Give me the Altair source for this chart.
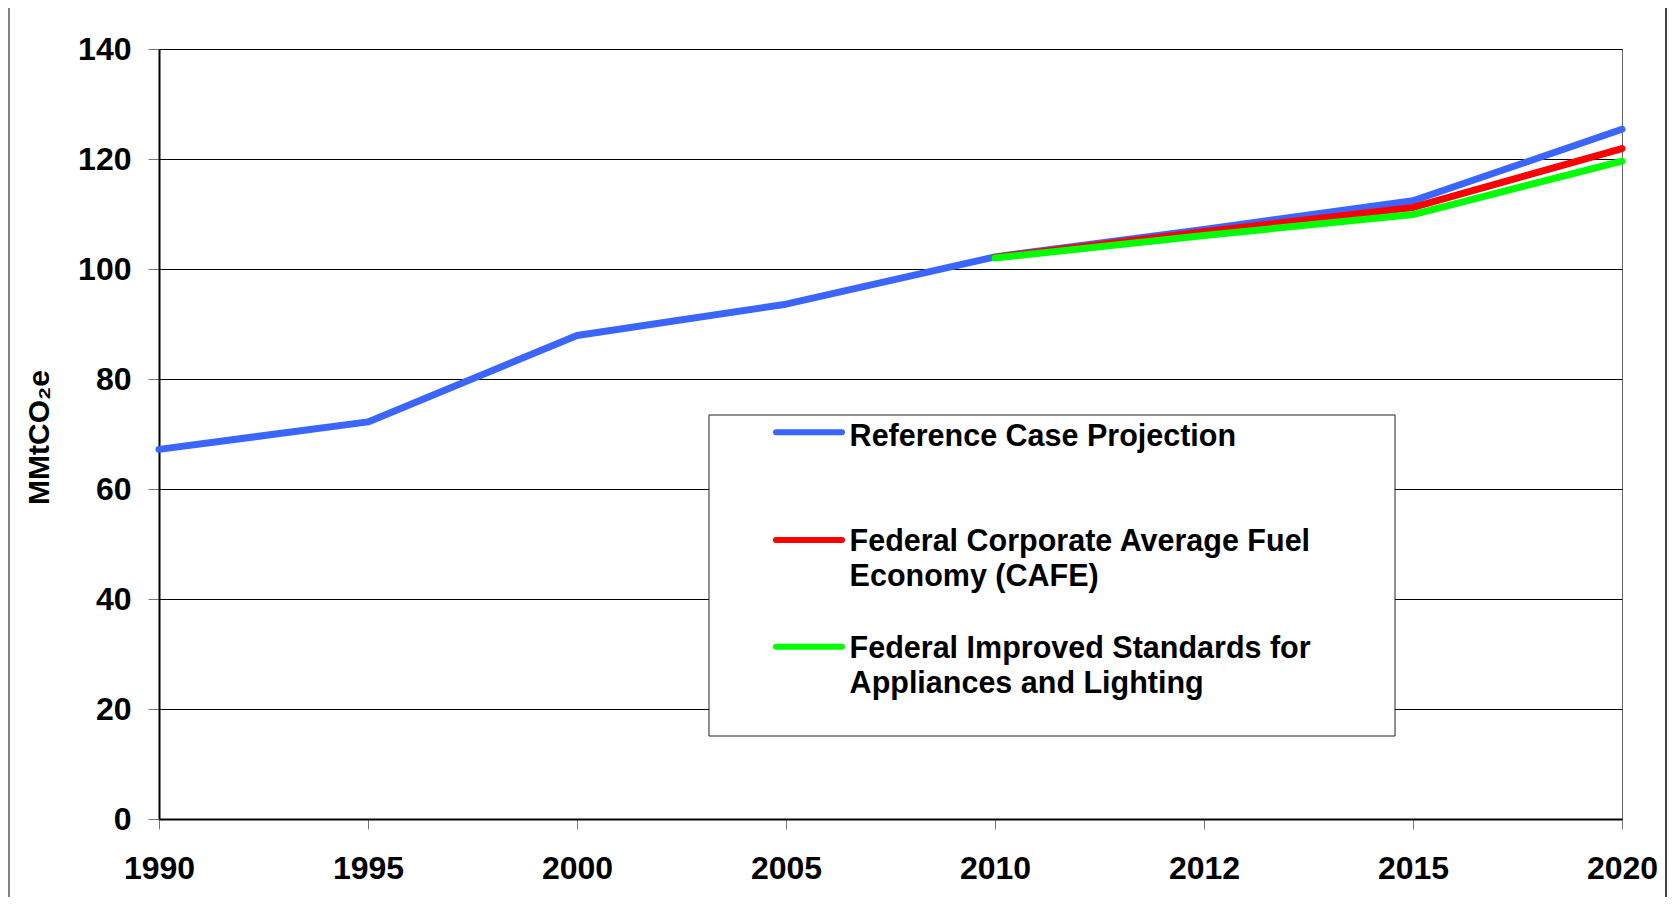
import altair as alt
import pandas as pd

# ---- data ----
years = ["1990", "1995", "2000", "2005", "2010", "2012", "2015", "2020"]
ref_vals = [67.2, 72.2, 87.9, 93.6, 102.2, 107.2, 112.4, 125.4]
cafe_years = ["2010", "2012", "2015", "2020"]
cafe_vals = [102.1, 106.8, 111.2, 121.9]
appl_years = ["2010", "2012", "2015", "2020"]
appl_vals = [102.0, 106.1, 109.9, 119.6]

series = [
    "Reference Case Projection",
    "Federal Corporate Average Fuel Economy (CAFE)",
    "Federal Improved Standards for Appliances and Lighting",
]
legend_lines = [
    ["Reference Case Projection"],
    ["Federal Corporate Average Fuel", "Economy (CAFE)"],
    ["Federal Improved Standards for", "Appliances and Lighting"],
]
colors = ["#3A66FF", "#FF0000", "#00FF00"]
y_ticks = [0, 20, 40, 60, 80, 100, 120, 140]
y_title = "MMtCO\u2082e"

FONT = "Liberation Sans"

frames = []
for name, yrs, vals in [(series[0], years, ref_vals),
                        (series[1], cafe_years, cafe_vals),
                        (series[2], appl_years, appl_vals)]:
    frames.append(pd.DataFrame({"year": yrs, "value": vals, "series": name}))
df = pd.concat(frames, ignore_index=True)

x_enc = alt.X(
    "year:O",
    scale=alt.Scale(type="point", padding=0, domain=years),
    axis=alt.Axis(
        title=None, labelAngle=0, tickSize=10, tickColor="#777", tickWidth=1,
        labelPadding=24, domainColor="black", domainWidth=2, grid=False,
        labelFontSize=32,
    ),
)
y_enc = alt.Y(
    "value:Q",
    scale=alt.Scale(domain=[0, 140], nice=False, zero=True),
    axis=alt.Axis(
        values=y_ticks, grid=True, gridColor="black", gridWidth=1,
        tickSize=11, tickColor="#777", tickWidth=1, labelPadding=17,
        domainColor="black", domainWidth=2, labelFontSize=32,
        title=y_title, titleFontSize=30, titleFont=FONT, titleFontWeight="bold",
        titleAngle=270, titleX=-119.5, titleY=388, titleAlign="center",
        titleBaseline="middle", titleColor="black",
    ),
)

layers = []
for name, col in zip(series, colors):
    layers.append(
        alt.Chart(df)
        .transform_filter(alt.datum.series == name)
        .mark_line(color=col, strokeWidth=7, strokeCap="round", strokeJoin="round")
        .encode(x=x_enc, y=y_enc)
    )

dummy = pd.DataFrame({"k": [0]})

# legend box
layers.append(
    alt.Chart(dummy).mark_rect(fill="white", stroke="#222", strokeWidth=1)
    .encode(x=alt.value(550), x2=alt.value(1236), y=alt.value(366), y2=alt.value(687))
)
sym_y = [383.3, 491, 597.7]
text_y = [[387.5], [493.2, 528.2], [599.5, 634.8]]
for col, sy, lines, tys in zip(colors, sym_y, legend_lines, text_y):
    layers.append(
        alt.Chart(dummy).mark_rule(color=col, strokeWidth=6, strokeCap="round")
        .encode(x=alt.value(617), x2=alt.value(683), y=alt.value(sy))
    )
    for line, ty in zip(lines, tys):
        layers.append(
            alt.Chart(dummy).mark_text(
                align="left", baseline="middle", font=FONT, fontSize=30.5,
                fontWeight="bold", color="black",
            ).encode(x=alt.value(690.6), y=alt.value(ty), text=alt.value(line))
        )

# outer panel borders
layers.append(
    alt.Chart(dummy).mark_rule(color="black", strokeWidth=1)
    .encode(x=alt.value(-150), y=alt.value(-41), y2=alt.value(848))
)
layers.append(
    alt.Chart(dummy).mark_rule(color="#444", strokeWidth=2)
    .encode(x=alt.value(1507), y=alt.value(-41), y2=alt.value(848))
)

chart = (
    alt.layer(*layers)
    .properties(
        width=1463, height=770,
        autosize=alt.AutoSizeParams(type="none"),
        padding={"left": 151, "top": 41, "right": 45, "bottom": 78},
        background="white",
    )
    .configure_view(stroke="#666", strokeWidth=1)
    .configure_axis(
        labelFont=FONT, labelFontWeight="bold", labelColor="black",
    )
)

chart.save("out.html", embed_options={"renderer": "svg", "actions": False})
